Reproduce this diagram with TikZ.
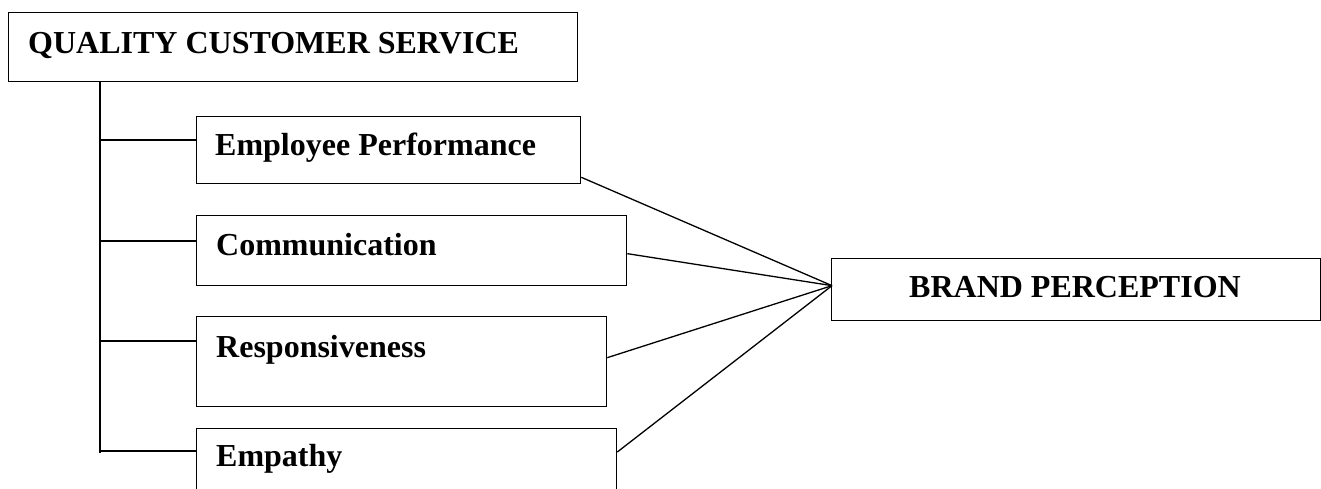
\documentclass[tikz,border=0pt]{standalone}
\usepackage{fontspec}
\setmainfont{Liberation Serif}
\usetikzlibrary{calc}
\begin{document}
\begin{tikzpicture}[x=1pt,y=-1pt,
  box/.style={draw,line width=1.3pt,rectangle,inner sep=0pt,anchor=north west},
  lbl/.style={inner sep=0pt,anchor=base west,font=\fontsize{32}{38}\selectfont\bfseries},
  spine/.style={line width=2pt},
  fan/.style={line width=1.3pt}]
\useasboundingbox (0,0) rectangle (1321,488);
% boxes
\node[box,minimum width=569pt,minimum height=69pt] (qcs) at (8,12) {};
\node[box,minimum width=384pt,minimum height=67pt] (emp) at (196,116) {};
\node[box,minimum width=430pt,minimum height=70pt] (com) at (196,215) {};
\node[box,minimum width=410pt,minimum height=90pt] (res) at (196,316) {};
\node[box,minimum width=420pt,minimum height=82pt] (ept) at (196,428) {};
\node[box,minimum width=489pt,minimum height=62pt] (bp) at (831,258) {};
% labels
\node[lbl] (tqcs) at (28,53) {QUALITY CUSTOMER SERVICE};
\node[lbl] (temp) at (215,155) {Employee Performance};
\node[lbl] (tcom) at (216,255) {Communication};
\node[lbl] (tres) at (216,357) {Responsiveness};
\node[lbl] (tept) at (216,466) {Empathy};
\node[lbl,anchor=base] (tbp) at (1075,297) {BRAND PERCEPTION};
% spine
\coordinate (sp0) at (100,81);
\coordinate (sp1) at (100,140);
\coordinate (sp2) at (100,241);
\coordinate (sp3) at (100,341);
\coordinate (sp4) at (100,451);
\draw[spine] (sp0) -- (100,453);
\draw[spine] (sp1) -- (sp1 -| emp.west);
\draw[spine] (sp2) -- (sp2 -| com.west);
\draw[spine] (sp3) -- (sp3 -| res.west);
\draw[spine] (sp4) -- (sp4 -| ept.west);
% fan to brand perception
\coordinate (hub) at ($(bp.west)+(1,-4)$);
\draw[fan] ($(emp.south east)+(0,-7)$) -- (hub);
\draw[fan] ($(com.east)+(0,3)$) -- (hub);
\draw[fan] ($(res.east)+(0,-4)$) -- (hub);
\draw[fan] ($(ept.north east)+(0,24)$) -- (hub);
\end{tikzpicture}
\end{document}
